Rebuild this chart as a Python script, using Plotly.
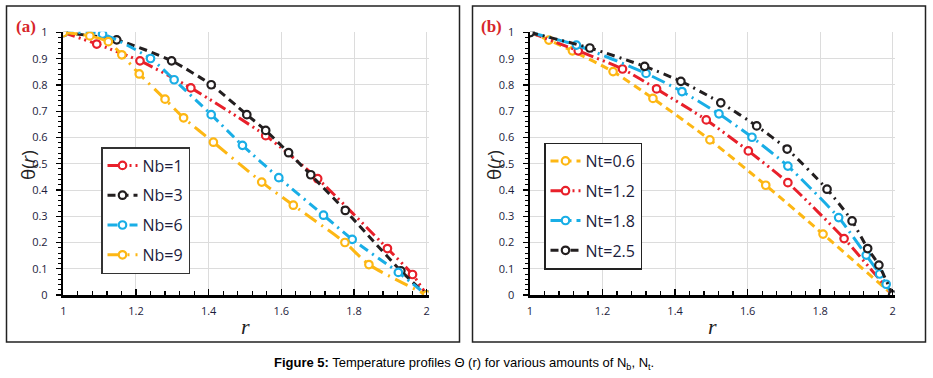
import plotly.graph_objects as go

# ---------------- data: panel (a) Nb ----------------
nb1_r = [1.0, 1.092, 1.211, 1.351, 1.557, 1.700, 1.892, 1.961, 2.0]
nb1_t = [1.0, 0.956, 0.892, 0.789, 0.607, 0.443, 0.177, 0.078, 0.0]

nb3_r = [1.0, 1.147, 1.298, 1.407, 1.505, 1.557, 1.620, 1.681, 1.776, 1.929, 2.0]
nb3_t = [1.0, 0.972, 0.892, 0.801, 0.687, 0.627, 0.542, 0.458, 0.322, 0.092, 0.0]

nb6_r = [1.0, 1.108, 1.240, 1.305, 1.407, 1.493, 1.593, 1.716, 1.795, 1.922, 2.0]
nb6_t = [1.0, 0.994, 0.901, 0.820, 0.687, 0.570, 0.447, 0.304, 0.212, 0.086, 0.0]

nb9_r = [1.0, 1.073, 1.124, 1.161, 1.209, 1.280, 1.331, 1.413, 1.546, 1.633, 1.775, 1.841, 2.0]
nb9_t = [1.0, 0.987, 0.965, 0.915, 0.842, 0.746, 0.675, 0.582, 0.430, 0.342, 0.200, 0.116, 0.0]

# ---------------- data: panel (b) Nt ----------------
nt06_r = [1.0, 1.052, 1.117, 1.229, 1.339, 1.496, 1.650, 1.808, 2.0]
nt06_t = [1.0, 0.971, 0.930, 0.851, 0.749, 0.591, 0.418, 0.232, 0.0]

nt12_r = [1.0, 1.133, 1.255, 1.349, 1.486, 1.602, 1.711, 1.866, 2.0]
nt12_t = [1.0, 0.930, 0.861, 0.785, 0.667, 0.549, 0.428, 0.215, 0.0]

nt18_r = [1.0, 1.128, 1.320, 1.419, 1.521, 1.612, 1.711, 1.851, 1.927, 1.964, 1.982, 2.0]
nt18_t = [1.0, 0.952, 0.844, 0.775, 0.690, 0.601, 0.491, 0.295, 0.152, 0.080, 0.041, 0.0]

nt25_r = [1.0, 1.165, 1.316, 1.416, 1.526, 1.625, 1.709, 1.819, 1.888, 1.931, 1.962, 2.0]
nt25_t = [1.0, 0.941, 0.871, 0.814, 0.732, 0.644, 0.556, 0.403, 0.282, 0.177, 0.114, 0.0]

x_ticks = [1, 1.2, 1.4, 1.6, 1.8, 2]
x_ticklabels = ["1", "1.2", "1.4", "1.6", "1.8", "2"]
y_ticks = [0, 0.1, 0.2, 0.3, 0.4, 0.5, 0.6, 0.7, 0.8, 0.9, 1]
y_ticklabels = ["0", "0.1", "0.2", "0.3", "0.4", "0.5", "0.6", "0.7", "0.8", "0.9", "1"]

RED = "#e8202a"
BLACK = "#231f20"
BLUE = "#19aee6"
YEL = "#fdb714"

series_a = [
    ("Nb=1", nb1_r, nb1_t, RED, "12px,4px,2px,4px,2px,4px"),
    ("Nb=3", nb3_r, nb3_t, BLACK, "8px,5px"),
    ("Nb=6", nb6_r, nb6_t, BLUE, "10px,5px,2px,5px"),
    ("Nb=9", nb9_r, nb9_t, YEL, "14px,6px,2px,6px"),
]
series_b = [
    ("Nt=0.6", nt06_r, nt06_t, YEL, "8px,5px"),
    ("Nt=1.2", nt12_r, nt12_t, RED, "12px,4px,2px,4px,2px,4px"),
    ("Nt=1.8", nt18_r, nt18_t, BLUE, "14px,5px,2px,5px"),
    ("Nt=2.5", nt25_r, nt25_t, BLACK, "8px,5px,2px,5px"),
]

W, H = 933, 378
fig = go.Figure()

def add(series, xa, ya, leg):
    for i, (name, r, t, c, d) in enumerate(series):
        fig.add_trace(go.Scatter(
            x=r, y=t, name=name, mode="lines+markers",
            line=dict(color=c, width=3, dash=d, shape="spline", smoothing=0.6),
            marker=dict(symbol="circle", size=7.5, color="white",
                        line=dict(color=c, width=2.2)),
            xaxis=xa, yaxis=ya, legend=leg, legendgroup=leg + name,
        ))

add(series_a, "x", "y", "legend")
add(series_b, "x2", "y2", "legend2")

tickfont = dict(family="Open Sans, Liberation Sans", size=11, color="#1c1c3c")

def xax(domain, anchor):
    return dict(domain=domain, anchor=anchor, range=[1, 2.005], tickvals=x_ticks,
                ticktext=x_ticklabels, showgrid=True, gridcolor="#dcdcdc", gridwidth=1,
                showline=True, linecolor="black", linewidth=2.5, ticks="inside",
                ticklen=6, tickwidth=1.5, tickcolor="black", tickfont=tickfont,
                minor=dict(dtick=0.04, ticks="inside", ticklen=4, tickwidth=1.2,
                           tickcolor="black", showgrid=False),
                zeroline=False, title=None, ticklabelstandoff=4, automargin=False)

def yax(domain, anchor):
    return dict(domain=domain, anchor=anchor, range=[0, 1.003], tickvals=y_ticks,
                ticktext=y_ticklabels, showgrid=True, gridcolor="#dcdcdc", gridwidth=1,
                showline=True, linecolor="black", linewidth=2.5, ticks="outside",
                ticklen=5, tickwidth=1.2, tickcolor="black", tickfont=tickfont,
                minor=dict(dtick=0.02, ticks="outside", ticklen=3, tickwidth=1,
                           tickcolor="black", showgrid=False),
                zeroline=False, title=None, ticklabelstandoff=6, automargin=False)

ydom = [1 - 295 / H, 1 - 31.7 / H]
legfont = dict(family="Open Sans, Liberation Sans", size=16, color="#1c1c3c")

fig.update_layout(
    width=W, height=H, margin=dict(l=0, r=0, t=0, b=0, autoexpand=False),
    paper_bgcolor="white", plot_bgcolor="white", hovermode=False,
    xaxis=xax([63.3 / W, 428.5 / W], "y"),
    yaxis=yax(ydom, "x"),
    xaxis2=xax([530 / W, 894.5 / W], "y2"),
    yaxis2=yax(ydom, "x2"),
    legend=dict(x=101 / W, y=1 - 147 / H, xanchor="left", yanchor="top",
                bgcolor="white", bordercolor="#333333", borderwidth=1.5,
                font=legfont, tracegroupgap=6, itemwidth=30),
    legend2=dict(x=544 / W, y=1 - 142.5 / H, xanchor="left", yanchor="top",
                 bgcolor="white", bordercolor="#222222", borderwidth=1.5,
                 font=legfont, tracegroupgap=6, itemwidth=30),
    showlegend=True,
)

# panel frames
for x0, x1 in [(6.5, 459.5), (472.5, 925.5)]:
    fig.add_shape(type="rect", xref="paper", yref="paper",
                  x0=x0 / W, x1=x1 / W, y0=1 - 342 / H, y1=1 - 6 / H,
                  line=dict(color="#222222", width=1.5), layer="below")

ann = []
def A(text, xc, yc, font, angle=0):
    ann.append(dict(text=text, x=xc / W, y=1 - yc / H, xref="paper", yref="paper",
                    xanchor="center", yanchor="middle", showarrow=False,
                    textangle=angle, font=font))

for lab, xc in [("(a)", 26), ("(b)", 492)]:
    A("<b>" + lab + "</b>", xc, 27, dict(family="Liberation Serif", size=17, color="#d7262b"))
for xc in [28, 494]:
    A("θ(<i>r</i>)", xc, 165, dict(family="Open Sans, DejaVu Sans", size=19, color="#222222"), -90)
for xc in [246, 712]:
    A("<i>r</i>", xc, 326, dict(family="Liberation Serif", size=22, color="#222222"))
A("<b>Figure 5:</b> Temperature profiles Θ (r) for various amounts of N<sub>b</sub>, N<sub>t</sub>.",
  464, 363, dict(family="Liberation Sans, Arial", size=13, color="black"))
fig.update_layout(annotations=ann)

fig.write_html("out.html", config={"displayModeBar": False, "staticPlot": True},
               post_script="document.body.style.margin='0';document.body.style.overflow='hidden';")
